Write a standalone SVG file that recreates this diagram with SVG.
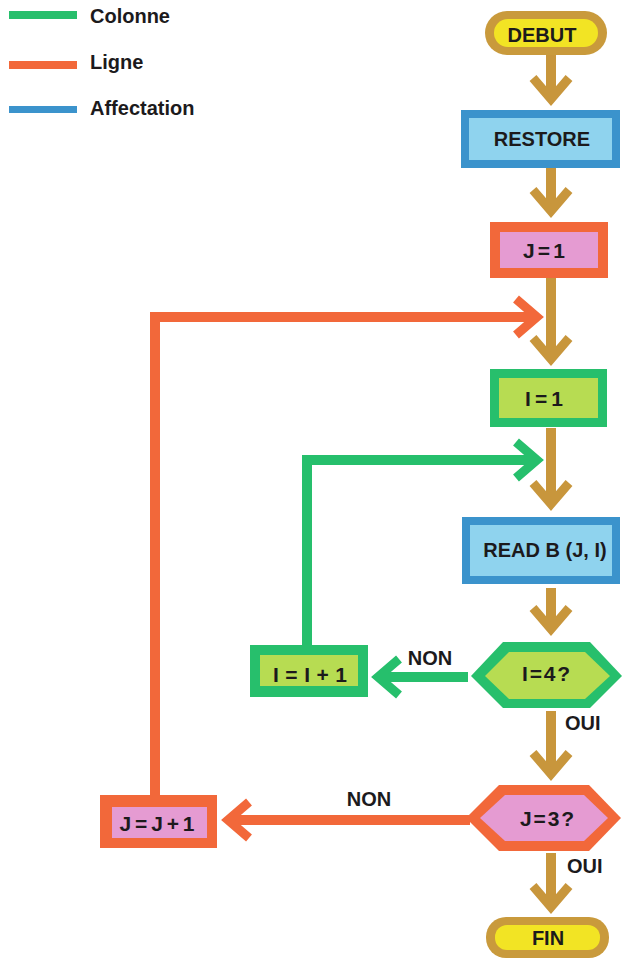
<svg xmlns="http://www.w3.org/2000/svg" width="626" height="963" viewBox="0 0 626 963">
  <style>
    text { font-family: "Liberation Sans", Arial, sans-serif; font-weight: bold; fill: #1c1a1c; }
    .lbl { font-size: 20px; text-anchor: middle; }
    .eq { font-size: 21px; text-anchor: middle; }
    .leg { font-size: 20px; }
    .flow { fill: none; stroke: #c8963c; stroke-width: 10; }
    .loopG { fill: none; stroke: #26bf6c; stroke-width: 10; }
    .loopO { fill: none; stroke: #f2683a; stroke-width: 10; }
    .pillO { fill: #c99a3c; }
    .pillI { fill: #f2e424; }
    .blueO { fill: #3b93cc; }
    .blueI { fill: #8fd3ee; }
    .orgO { fill: #f2683a; }
    .orgI { fill: #e59bd2; }
    .grnO { fill: #27bf6c; }
    .grnI { fill: #b7dc52; }
  </style>
  <defs>
    <marker id="headGold" markerUnits="userSpaceOnUse" viewBox="-30 -25 40 50" markerWidth="40" markerHeight="50" refX="0" refY="0" orient="auto" overflow="visible">
      <path d="M-21,-18 L0,0 L-21,18" fill="none" stroke="#c8963c" stroke-width="9"/>
    </marker>
    <marker id="headGreen" markerUnits="userSpaceOnUse" viewBox="-30 -25 40 50" markerWidth="40" markerHeight="50" refX="0" refY="0" orient="auto" overflow="visible">
      <path d="M-21,-18 L0,0 L-21,18" fill="none" stroke="#26bf6c" stroke-width="9"/>
    </marker>
    <marker id="headOrange" markerUnits="userSpaceOnUse" viewBox="-30 -25 40 50" markerWidth="40" markerHeight="50" refX="0" refY="0" orient="auto" overflow="visible">
      <path d="M-21,-18 L0,0 L-21,18" fill="none" stroke="#f2683a" stroke-width="9"/>
    </marker>
  </defs>

  <rect width="626" height="963" fill="#ffffff"/>

  <!-- legend -->
  <g id="legend">
    <rect x="9" y="11" width="68" height="8" fill="#27bf6c"/>
    <text class="leg" x="90" y="23">Colonne</text>
    <rect x="9" y="61" width="68" height="8" fill="#f2683a"/>
    <text class="leg" x="90" y="69">Ligne</text>
    <rect x="9" y="106" width="68" height="7" fill="#3b93cc"/>
    <text class="leg" x="90" y="115">Affectation</text>
  </g>

  <!-- connectors -->
  <g id="connectors">
    <path class="flow" d="M551,55 V99" marker-end="url(#headGold)"/>
    <path class="flow" d="M551,168 V211" marker-end="url(#headGold)"/>
    <path class="flow" d="M551,278 V359" marker-end="url(#headGold)"/>
    <path class="flow" d="M551,428 V504" marker-end="url(#headGold)"/>
    <path class="flow" d="M551,588 V629" marker-end="url(#headGold)"/>
    <path class="flow" d="M551,711 V774" marker-end="url(#headGold)"/>
    <path class="flow" d="M551,853 V907" marker-end="url(#headGold)"/>

    <path class="loopG" d="M468,677 H378" marker-end="url(#headGreen)"/>
    <path class="loopG" d="M307,645 V460 H537" marker-end="url(#headGreen)"/>

    <path class="loopO" d="M470,820 H228" marker-end="url(#headOrange)"/>
    <path class="loopO" d="M155,795 V317 H537" marker-end="url(#headOrange)"/>

    <text class="lbl" x="430" y="665">NON</text>
    <text class="lbl" x="369" y="806">NON</text>
    <text class="leg" x="565" y="730">OUI</text>
    <text class="leg" x="567" y="873">OUI</text>
  </g>

  <!-- nodes -->
  <g id="debut">
    <rect class="pillO" x="485" y="11" width="122" height="44" rx="22"/>
    <rect class="pillI" x="494" y="19" width="104" height="28" rx="14"/>
    <text class="lbl" x="542" y="42">DEBUT</text>
  </g>

  <g id="restore">
    <rect class="blueO" x="461" y="110" width="159" height="58"/>
    <rect class="blueI" x="469" y="118" width="143" height="42"/>
    <text class="lbl" x="542" y="146">RESTORE</text>
  </g>

  <g id="j-init">
    <rect class="orgO" x="490" y="222" width="118" height="56"/>
    <rect class="orgI" x="500" y="232" width="98" height="36"/>
    <text class="eq" x="544" y="258" textLength="42" lengthAdjust="spacing">J=1</text>
  </g>

  <g id="i-init">
    <rect class="grnO" x="490" y="369" width="117" height="58"/>
    <rect class="grnI" x="499" y="378" width="99" height="40"/>
    <text class="eq" x="544" y="406" textLength="38" lengthAdjust="spacing">I=1</text>
  </g>

  <g id="read">
    <rect class="blueO" x="462" y="517" width="158" height="67"/>
    <rect class="blueI" x="470" y="525" width="142" height="51"/>
    <text class="lbl" x="545" y="557">READ B (J, I)</text>
  </g>

  <g id="test-i">
    <polygon class="grnO" points="471,676 503,642 590,642 622,676 590,708 503,708"/>
    <polygon class="grnI" points="485,676 509,652 585,652 610,676 585,699 509,699"/>
    <text class="eq" x="546" y="681" textLength="48" lengthAdjust="spacing">I=4?</text>
  </g>

  <g id="i-incr">
    <rect class="grnO" x="250" y="645" width="118" height="52"/>
    <rect class="grnI" x="260" y="655" width="98" height="31"/>
    <text class="eq" x="310" y="682" textLength="74" lengthAdjust="spacing">I=I+1</text>
  </g>

  <g id="test-j">
    <polygon class="orgO" points="466,818 499,785 589,785 621,818 589,851 499,851"/>
    <polygon class="orgI" points="480,818 505,795 584,795 608,818 584,841 505,841"/>
    <text class="eq" x="547" y="826" textLength="54" lengthAdjust="spacing">J=3?</text>
  </g>

  <g id="j-incr">
    <rect class="orgO" x="100" y="795" width="117" height="53"/>
    <rect class="orgI" x="112" y="807" width="95" height="31"/>
    <text class="eq" x="157" y="831" textLength="75" lengthAdjust="spacing">J=J+1</text>
  </g>

  <g id="fin">
    <rect class="pillO" x="486" y="917" width="123" height="41" rx="20"/>
    <rect class="pillI" x="495" y="925" width="105" height="25" rx="12"/>
    <text class="lbl" x="548" y="945">FIN</text>
  </g>
</svg>
